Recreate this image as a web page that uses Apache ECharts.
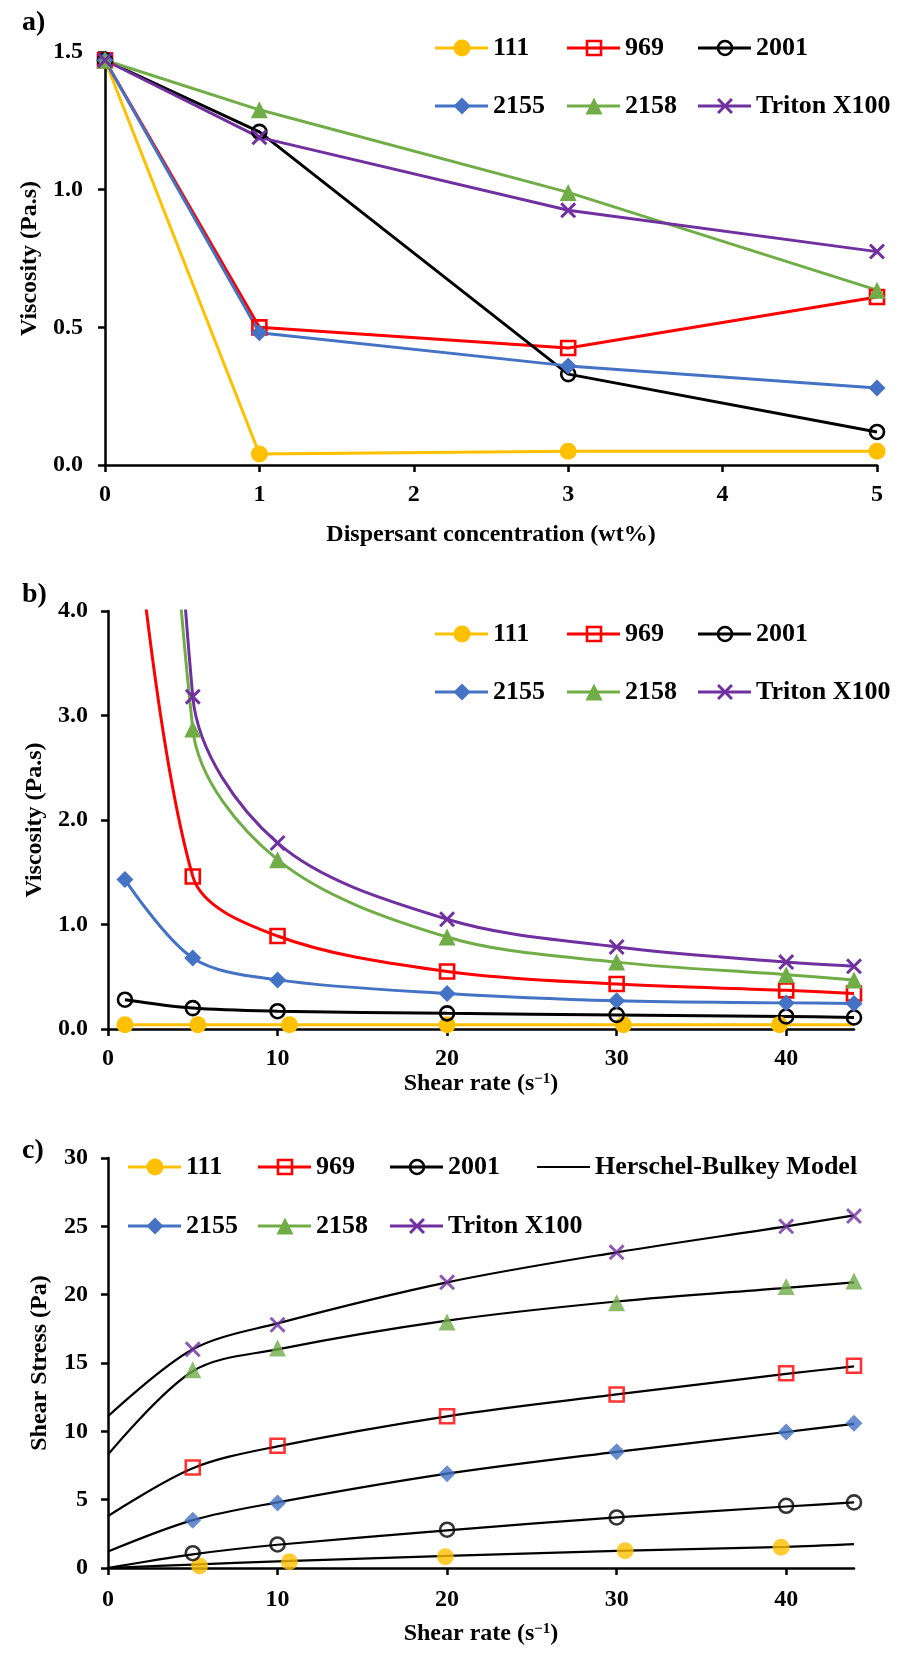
<!DOCTYPE html>
<html>
<head>
<meta charset="utf-8">
<title>Dispersant viscosity and shear stress</title>
<script src="https://cdn.jsdelivr.net/npm/echarts@6/dist/echarts.min.js"></script>
<style>
  html, body { margin: 0; padding: 0; background: #ffffff; }
  #chart { width: 901px; height: 1653px; }
</style>
</head>
<body>
<div id="chart"></div>
<script>
// ---------- data ----------
// (a) viscosity vs dispersant concentration
const concentration = [0, 1, 3, 5];
const viscA_111    = [1.47, 0.04, 0.05, 0.05];
const viscA_969    = [1.47, 0.50, 0.425, 0.61];
const viscA_2001   = [1.47, 1.21, 0.33, 0.12];
const viscA_2155   = [1.47, 0.48, 0.36, 0.28];
const viscA_2158   = [1.47, 1.29, 0.99, 0.635];
const viscA_triton = [1.47, 1.19, 0.925, 0.775];

// (b) viscosity vs shear rate
const shearB       = [1, 5, 10, 20, 30, 40, 44];
const shearB_111   = [1, 5.3, 10.7, 20, 30.4, 39.6, 44];
const viscB_111    = [0.04, 0.04, 0.04, 0.04, 0.04, 0.04, 0.04];
const viscB_969    = [6.0, 1.46, 0.89, 0.55, 0.43, 0.37, 0.34];
const viscB_2001   = [0.28, 0.20, 0.17, 0.15, 0.135, 0.12, 0.11];
const viscB_2155   = [1.43, 0.68, 0.47, 0.34, 0.27, 0.25, 0.245];
const viscB_2158   = [15.0, 2.87, 1.62, 0.88, 0.64, 0.52, 0.47];
const viscB_triton = [18.0, 3.18, 1.78, 1.05, 0.785, 0.64, 0.60];

// (c) shear stress vs shear rate: measurements
const shearC       = [5, 10, 20, 30, 40, 44];
const shearC_111   = [5.4, 10.7, 19.9, 30.5, 39.7];
const stressC_111    = [0.15, 0.45, 0.82, 1.27, 1.51];
const stressC_969    = [7.35, 8.95, 11.1, 12.7, 14.25, 14.8];
const stressC_2001   = [1.08, 1.72, 2.8, 3.7, 4.55, 4.8];
const stressC_2155   = [3.5, 4.76, 6.9, 8.5, 9.95, 10.6];
const stressC_2158   = [14.5, 16.1, 18.0, 19.4, 20.6, 21.0];
const stressC_triton = [16.0, 17.8, 20.9, 23.1, 25.0, 25.75];

// (c) Herschel-Bulkley model curves
const shearHB   = [0, 5, 10, 20, 30, 40, 44];
const hb_111    = [0, 0.25, 0.48, 0.88, 1.25, 1.55, 1.75];
const hb_969    = [3.8, 7.3, 8.9, 11.1, 12.7, 14.2, 14.75];
const hb_2001   = [0, 1.0, 1.7, 2.75, 3.7, 4.5, 4.8];
const hb_2155   = [1.2, 3.5, 4.8, 6.9, 8.5, 9.95, 10.55];
const hb_2158   = [8.3, 14.4, 16.0, 18.1, 19.5, 20.5, 20.9];
const hb_triton = [11.1, 16.0, 17.9, 20.9, 23.1, 25.0, 25.8];

const seriesNames = ['111', '969', '2001', '2155', '2158', 'Triton X100'];
const modelName = 'Herschel-Bulkey Model';

// ---------- styling ----------
const FONT = '"Liberation Serif", "Times New Roman", serif';

// thick "X" outline on a 20x20 box
const CROSS_PTS = [[2.6,0],[10,7.4],[17.4,0],[20,2.6],[12.6,10],[20,17.4],[17.4,20],[10,12.6],[2.6,20],[0,17.4],[7.4,10],[0,2.6]];
const CROSS_PATH = 'path://M' + CROSS_PTS.map(p => p.join(',')).join('L') + 'Z';

const styles = {
  '111':         { color: '#FFC000', symbol: 'circle',   size: 17, filled: true },
  '969':         { color: '#FF0000', symbol: 'rect',     size: 14, filled: false },
  '2001':        { color: '#000000', symbol: 'circle',   size: 14, filled: false },
  '2155':        { color: '#4472C4', symbol: 'diamond',  size: 17, filled: true },
  '2158':        { color: '#70AD47', symbol: 'triangle', size: 17, filled: true },
  'Triton X100': { color: '#7030A0', symbol: CROSS_PATH, size: 16, filled: true }
};

function markerStyle(st) {
  return st.filled
    ? { color: st.color }
    : { color: 'rgba(0,0,0,0)', borderColor: st.color, borderWidth: 2.6 };
}

function pairs(xs, ys) { return xs.map((x, i) => [x, ys[i]]); }

// ---------- axes ----------
const labelStyle = { fontFamily: FONT, fontWeight: 'bold', fontSize: 24, color: '#000' };
const nameStyle  = { fontFamily: FONT, fontWeight: 'bold', fontSize: 24, color: '#000' };
const axisLineStyle = { show: true, onZero: false, lineStyle: { color: '#000', width: 2.5 } };
const tickStyle = { show: true, length: 7, lineStyle: { color: '#000', width: 2.5 } };

function xAxisDef(gridIndex, max, interval, name, gap, margin) {
  return {
    type: 'value', gridIndex, min: 0, max, interval,
    axisLine: axisLineStyle, axisTick: tickStyle,
    axisLabel: Object.assign({ margin, showMaxLabel: max % interval === 0 }, labelStyle),
    splitLine: { show: false },
    name, nameLocation: 'middle', nameGap: gap, nameTextStyle: nameStyle
  };
}
function yAxisDef(gridIndex, max, interval, digits, name, gap, margin) {
  return {
    type: 'value', gridIndex, min: 0, max, interval,
    axisLine: axisLineStyle, axisTick: tickStyle,
    axisLabel: Object.assign({ margin, formatter: v => v.toFixed(digits) }, labelStyle),
    splitLine: { show: false },
    name, nameLocation: 'middle', nameGap: gap, nameTextStyle: nameStyle
  };
}

const shearName = 'Shear rate (s{sup|\u22121})';

// ---------- series ----------
const series = [];

// (a) straight connecting lines
const panelA = [viscA_111, viscA_969, viscA_2001, viscA_2155, viscA_2158, viscA_triton];
panelA.forEach((vals, i) => {
  const st = styles[seriesNames[i]];
  series.push({
    type: 'line', name: seriesNames[i], xAxisIndex: 0, yAxisIndex: 0,
    data: pairs(concentration, vals),
    symbol: st.symbol, symbolSize: st.size, showAllSymbol: true,
    itemStyle: markerStyle(st),
    lineStyle: { color: st.color, width: 3 },
    z: 3
  });
});

// (b) smoothed curves through the measurements
const panelB = [[shearB_111, viscB_111], [shearB, viscB_969], [shearB, viscB_2001],
                [shearB, viscB_2155], [shearB, viscB_2158], [shearB, viscB_triton]];
panelB.forEach(([xs, vals], i) => {
  const st = styles[seriesNames[i]];
  const data = pairs(xs, vals).map((p, k) => {
    // the flat 111 curve runs on to the end of the axis without a final marker
    if (i === 0 && k === xs.length - 1) return { value: p, symbol: 'none' };
    return p;
  });
  series.push({
    type: 'line', name: seriesNames[i], xAxisIndex: 1, yAxisIndex: 1,
    data, smooth: 0.33, clip: true,
    symbol: st.symbol, symbolSize: st.size, showAllSymbol: true,
    itemStyle: markerStyle(st),
    lineStyle: { color: st.color, width: 3 },
    z: 3
  });
});

// (c) model curves
[hb_111, hb_969, hb_2001, hb_2155, hb_2158, hb_triton].forEach(vals => {
  series.push({
    type: 'line', name: modelName, xAxisIndex: 2, yAxisIndex: 2,
    data: pairs(shearHB, vals), smooth: 0.33, symbol: 'none',
    lineStyle: { color: '#000', width: 2.2 }, z: 2
  });
});
// (c) measured points
const panelC = [[shearC_111, stressC_111], [shearC, stressC_969], [shearC, stressC_2001],
                [shearC, stressC_2155], [shearC, stressC_2158], [shearC, stressC_triton]];
panelC.forEach(([xs, vals], i) => {
  const st = styles[seriesNames[i]];
  series.push({
    type: 'scatter', name: seriesNames[i], xAxisIndex: 2, yAxisIndex: 2,
    data: pairs(xs, vals),
    symbol: st.symbol, symbolSize: st.size,
    itemStyle: markerStyle(st), z: 4
  });
});

// ---------- legends drawn as graphics ----------
function legendSymbol(st, cx, cy) {
  const fill = st.filled ? st.color : 'rgba(0,0,0,0)';
  const stroke = st.filled ? null : st.color;
  const base = { fill, stroke, lineWidth: 2.6 };
  const s = st.size;
  if (st.symbol === 'circle') {
    return { type: 'circle', shape: { cx, cy, r: s / 2 }, style: base };
  }
  if (st.symbol === 'rect') {
    return { type: 'rect', shape: { x: cx - s / 2, y: cy - s / 2, width: s, height: s }, style: base };
  }
  if (st.symbol === 'diamond') {
    return { type: 'polygon', shape: { points: [[cx, cy - s / 2], [cx + s / 2, cy], [cx, cy + s / 2], [cx - s / 2, cy]] }, style: base };
  }
  if (st.symbol === 'triangle') {
    return { type: 'polygon', shape: { points: [[cx, cy - s / 2], [cx + s / 2, cy + s / 2], [cx - s / 2, cy + s / 2]] }, style: base };
  }
  const k = s / 20;
  return { type: 'polygon', shape: { points: CROSS_PTS.map(p => [cx - s / 2 + p[0] * k, cy - s / 2 + p[1] * k]) }, style: base };
}

function legendEntry(name, x0, y, st) {
  const els = [];
  const color = st ? st.color : '#000';
  els.push({ type: 'line', shape: { x1: x0, y1: y, x2: x0 + 53, y2: y },
             style: { stroke: color, lineWidth: st ? 3 : 2.2 }, z: 10 });
  if (st) {
    const sym = legendSymbol(st, x0 + 27, y);
    sym.z = 11;
    els.push(sym);
  }
  els.push({ type: 'text', x: x0 + 58, y, z: 11,
             style: { text: name, fill: '#000', fontFamily: FONT, fontWeight: 'bold', fontSize: 26,
                      align: 'left', verticalAlign: 'middle' } });
  return els;
}

const graphics = [];
function sixEntryLegend(cols, rows) {
  seriesNames.forEach((n, i) => {
    graphics.push(...legendEntry(n, cols[i % 3], rows[Math.floor(i / 3)], styles[n]));
  });
}
sixEntryLegend([435, 567, 698], [48, 106]);
sixEntryLegend([435, 567, 698], [634, 692]);
// panel (c): three markers + model on the first row, three markers on the second
[[seriesNames[0], 128, 1167], [seriesNames[1], 258, 1167], [seriesNames[2], 390, 1167],
 [seriesNames[3], 128, 1226], [seriesNames[4], 258, 1226], [seriesNames[5], 390, 1226]]
  .forEach(([n, x, y]) => graphics.push(...legendEntry(n, x, y, styles[n])));
graphics.push(...legendEntry(modelName, 537, 1167, null));

// panel letters
[['a)', 22, 23], ['b)', 22, 595], ['c)', 22, 1151]].forEach(([t, x, y]) => {
  graphics.push({ type: 'text', x, y, z: 11,
    style: { text: t, fill: '#000', fontFamily: FONT, fontWeight: 'bold', fontSize: 28,
             align: 'left', verticalAlign: 'middle' } });
});

// ---------- chart ----------
const supRich = {
  sup: { fontFamily: FONT, fontWeight: 'bold', fontSize: 15, verticalAlign: 'top', lineHeight: 24, padding: [0, 0, 10, 0] }
};

const option = {
  animation: false,
  backgroundColor: '#ffffff',
  grid: [
    { left: 105, top: 52,   width: 772, height: 413 },
    { left: 108, top: 611,  width: 746, height: 418 },
    { left: 108, top: 1158, width: 746, height: 410 }
  ],
  xAxis: [
    xAxisDef(0, 5, 1, 'Dispersant concentration (wt%)', 58, 18),
    Object.assign(xAxisDef(1, 44, 10, shearName, 36, 18), { nameTextStyle: Object.assign({ rich: supRich }, nameStyle) }),
    Object.assign(xAxisDef(2, 44, 10, shearName, 54, 20), { nameTextStyle: Object.assign({ rich: supRich }, nameStyle) })
  ],
  yAxis: [
    yAxisDef(0, 1.5, 0.5, 1, 'Viscosity (Pa.s)', 57, 22),
    yAxisDef(1, 4, 1, 1, 'Viscosity (Pa.s)', 60, 20),
    yAxisDef(2, 30, 5, 0, 'Shear Stress (Pa)', 56, 20)
  ],
  series,
  graphic: { elements: graphics }
};

const chart = echarts.init(document.getElementById('chart'), null, { renderer: 'canvas', width: 901, height: 1653 });
chart.setOption(option);
</script>
</body>
</html>
